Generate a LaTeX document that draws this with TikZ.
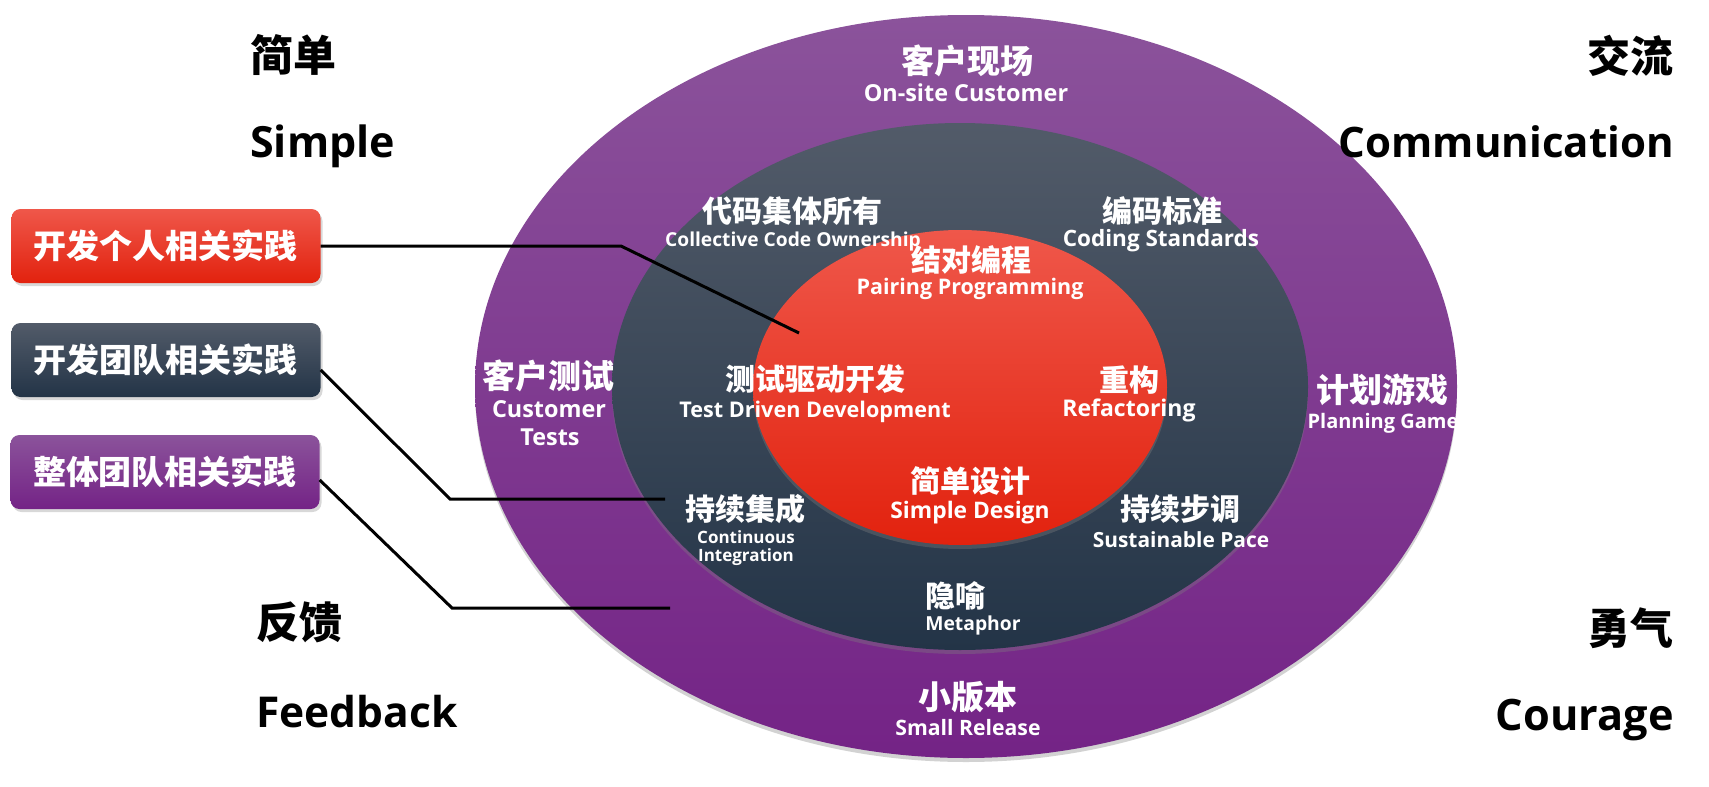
\documentclass[tikz,border=0pt]{standalone}
\usepackage{fontspec}
\setmainfont{Open Sans}
\newfontfamily\cjk{Noto Sans CJK SC}
\usetikzlibrary{shapes.geometric,shadows}
\definecolor{purT}{HTML}{8B539B}
\definecolor{purB}{HTML}{742386}
\definecolor{drkT}{HTML}{525B69}
\definecolor{drkB}{HTML}{233447}
\definecolor{redT}{HTML}{EF574A}
\definecolor{redB}{HTML}{E2220E}
\begin{document}
\begin{tikzpicture}[x=1pt,y=-1pt,
  ring/.style={ellipse, inner sep=0pt, draw=none},
  sh/.style={drop shadow={shadow xshift=0pt, shadow yshift=-4pt, opacity=0.35}},
  zh/.style={font=\cjk\bfseries\fontsize{#1}{#1}\selectfont, text=white, inner sep=0pt},
  en/.style={font=\bfseries\fontsize{#1}{#1}\selectfont, text=white, inner sep=0pt, anchor=base},
  czh/.style={font=\cjk\bfseries\fontsize{43}{43}\selectfont, text=black, inner sep=0pt},
  cen/.style={font=\bfseries\fontsize{#1}{#1}\selectfont, text=black, inner sep=0pt},
  tag/.style={rounded corners=9pt, minimum width=309pt, minimum height=74pt, inner sep=0pt,
    font=\cjk\bfseries\fontsize{33}{33}\selectfont, text=white,
    drop shadow={shadow xshift=2pt, shadow yshift=-3pt, opacity=0.3}},
  conn/.style={draw=black, line width=3pt}]
\useasboundingbox (0,0) rectangle (1709,787);
\fill[white] (0,0) rectangle (1709,787);

% rings
\node[ring, sh, minimum width=982pt, minimum height=743pt, top color=purT, bottom color=purB] (outer) at (966,386.5) {};
\node[ring, sh, minimum width=696pt, minimum height=527pt, top color=drkT, bottom color=drkB] (middle) at (960,386.5) {};
\node[ring, sh, minimum width=414pt, minimum height=315pt, top color=redT, bottom color=redB] (inner) at (960,387.5) {};

% tags
\node[tag, top color=redT, bottom color=redB] (b1) at (166,246) {开发个人相关实践};
\node[tag, top color=drkT, bottom color=drkB] (b2) at (166,360) {开发团队相关实践};
\node[tag, top color=purT, bottom color=purB] (b3) at (165,472) {整体团队相关实践};

% connectors
\coordinate (k1) at (621,246);
\coordinate (p1) at (799,333);
\coordinate (k2) at (450,499);
\coordinate (p2) at (665,499);
\coordinate (k3) at (452,608);
\coordinate (p3) at (670,608);
\draw[conn] (b1.east) -- (k1) -- (p1);
\draw[conn] ([yshift=-10pt]b2.east) -- (k2) -- (p2);
\draw[conn] ([yshift=-8pt]b3.east) -- (k3) -- (p3);

% outer ring labels
\node[zh=33] (t1) at (967,61) {客户现场};
\node[en=23.4] (e1) at (966,101) {On-site Customer};
\node[zh=33] (t2) at (548,376) {客户测试};
\node[en=23.4] (e2a) at (549,417) {Customer};
\node[en=23.4] (e2b) at (550,445) {Tests};
\node[zh=33] (t3) at (1382,390) {计划游戏};
\node[en=20] (e3) at (1383,428) {Planning Game};
\node[zh=33] (t4) at (968,697) {小版本};
\node[en=21.2] (e4) at (968,735) {Small Release};

% middle ring labels
\node[zh=30] (t5) at (792,211) {代码集体所有};
\node[en=19.2] (e5) at (793,246) {Collective Code Ownership};
\node[zh=30] (t6) at (1162,211) {编码标准};
\node[en=22.5] (e6) at (1161,246) {Coding Standards};
\node[zh=30] (t7) at (745,509) {持续集成};
\node[en=17] (e7a) at (746,543) {Continuous};
\node[en=17] (e7b) at (746,561) {Integration};
\node[zh=30] (t8) at (1180,509) {持续步调};
\node[en=20.9] (e8) at (1181,547) {Sustainable Pace};
\node[zh=30] (t9) at (955,596) {隐喻};
\node[en=19.3] (e9) at (973,630) {Metaphor};

% inner labels
\node[zh=30] (t10) at (971,260) {结对编程};
\node[en=21.5] (e10) at (970,294) {Pairing Programming};
\node[zh=30] (t11) at (815,379) {测试驱动开发};
\node[en=21.6] (e11) at (815,417) {Test Driven Development};
\node[zh=30] (t12) at (1129,380) {重构};
\node[en=23] (e12) at (1129,416) {Refactoring};
\node[zh=30] (t13) at (970,481) {简单设计};
\node[en=22.8] (e13) at (970,518) {Simple Design};

% corner values
\node[czh, anchor=west] (v1) at (250,55) {简单};
\node[cen=43, anchor=base west] (w1) at (250,157) {Simple};
\node[czh, anchor=east] (v2) at (1674,56) {交流};
\node[cen=42, anchor=base east] (w2) at (1674,157) {Communication};
\node[czh, anchor=west] (v3) at (256,622) {反馈};
\node[cen=42.5, anchor=base west] (w3) at (256,727) {Feedback};
\node[czh, anchor=east] (v4) at (1674,628) {勇气};
\node[cen=43.3, anchor=base east] (w4) at (1674,730) {Courage};
\end{tikzpicture}
\end{document}
